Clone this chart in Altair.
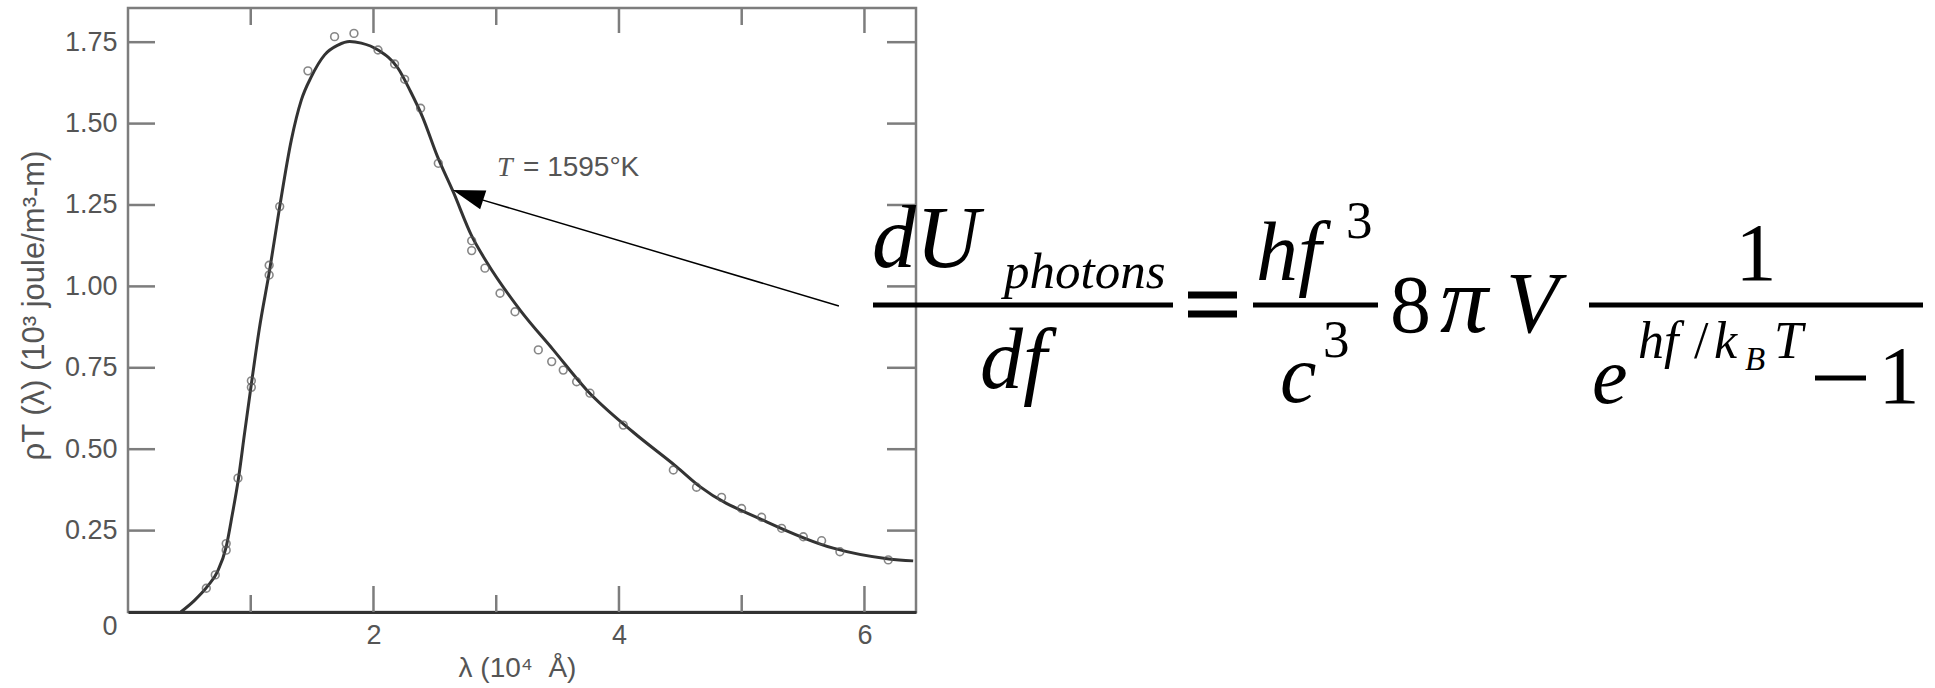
import altair as alt
import pandas as pd

# Measured spectral energy density of a cavity at T = 1595 K
lam_obs = [0.638, 0.711, 0.80, 0.80, 0.896, 1.005, 1.005, 1.15, 1.15, 1.236,
           1.466, 1.683, 1.841, 2.037, 2.172, 2.254, 2.384, 2.528, 2.80, 2.80,
           2.908, 3.031, 3.153, 3.343, 3.452, 3.546, 3.655, 3.764, 4.035, 4.443,
           4.632, 4.836, 4.999, 5.162, 5.325, 5.502, 5.651, 5.800, 6.194]
rho_obs = [0.073, 0.114, 0.21, 0.19, 0.411, 0.71, 0.69, 1.065, 1.035, 1.245,
           1.662, 1.767, 1.777, 1.726, 1.683, 1.636, 1.547, 1.378, 1.14, 1.11,
           1.056, 0.979, 0.922, 0.805, 0.769, 0.743, 0.707, 0.672, 0.574, 0.436,
           0.383, 0.352, 0.318, 0.291, 0.257, 0.231, 0.219, 0.185, 0.160]

# Theoretical curve drawn through the measurements
lam_fit = [0.43, 0.54, 0.65, 0.73, 0.80, 0.85, 0.90, 0.95, 1.005, 1.07,
           1.154, 1.236, 1.331, 1.412, 1.494, 1.602, 1.711, 1.806, 1.901, 2.037,
           2.20, 2.30, 2.40, 2.52, 2.65, 2.80, 2.922, 3.193, 3.465, 3.737,
           4.117, 4.470, 4.660, 5.203, 5.746, 6.20, 6.397]
rho_fit = [0.0, 0.035, 0.08, 0.125, 0.20, 0.30, 0.41, 0.55, 0.70, 0.87,
           1.05, 1.245, 1.45, 1.572, 1.644, 1.711, 1.741, 1.752, 1.747, 1.726,
           1.67, 1.60, 1.52, 1.40, 1.29, 1.155, 1.075, 0.928, 0.805, 0.682,
           0.552, 0.446, 0.385, 0.277, 0.196, 0.163, 0.157]

y_tick_values = [0, 0.25, 0.5, 0.75, 1.0, 1.25, 1.5, 1.75]
x_label_values = [2, 4, 6]
x_major_ticks = [2, 4, 6]
x_minor_ticks = [1, 3, 5]

X_MAX = 6.42
Y_MAX = 1.855

# page layout (pixels)
CANVAS_W, CANVAS_H = 1935, 688
PLOT_LEFT, PLOT_TOP = 128, 8
PLOT_W, PLOT_H = 788, 604

GRAY = "#555555"
FRAME = "#7d7d7d"
SANS = "Liberation Sans"
SERIF = "Liberation Serif"

obs = pd.DataFrame({"lam": lam_obs, "rho": rho_obs})
fit = pd.DataFrame({"lam": lam_fit, "rho": rho_fit})
yt = pd.DataFrame({"v": y_tick_values[1:]})
xmaj = pd.DataFrame({"v": x_major_ticks})
xmin = pd.DataFrame({"v": x_minor_ticks})
one = pd.DataFrame({"k": [0]})

xs = alt.Scale(domain=[0, X_MAX], nice=False, zero=False)
ys = alt.Scale(domain=[0, Y_MAX], nice=False, zero=False)

X_TITLE = "λ (10⁴\u00a0\u00a0Å)"
Y_TITLE = "ρT (λ) (10³ joule/m³-m)"

x_axis = alt.Axis(
    values=x_label_values, format="d", ticks=False, grid=False,
    labelPadding=10, labelFont=SANS, labelFontSize=27, labelColor=GRAY,
    domainColor="#333333", domainWidth=3,
    title=X_TITLE, titleFont=SANS, titleFontSize=28,
    titleFontWeight="normal", titleColor=GRAY,
    titleX=389, titleY=56, titleAlign="center", titleBaseline="middle",
)
y_axis = alt.Axis(
    values=y_tick_values, ticks=False, grid=False, domain=False,
    labelExpr="datum.value == 0 ? '0' : format(datum.value, '.2f')",
    labelPadding=11, labelFont=SANS, labelFontSize=27, labelColor=GRAY,
    labelOffset={"condition": {"test": "datum.value === 0", "value": 14}, "value": 0},
    title=Y_TITLE, titleFont=SANS, titleFontSize=31,
    titleFontWeight="normal", titleColor=GRAY, titleAngle=270,
    titleX=-94, titleY=297, titleAlign="center", titleBaseline="middle",
)


def X(field=None, datum=None):
    if datum is not None:
        return alt.X(datum=datum, type="quantitative", scale=xs, axis=x_axis, title=X_TITLE)
    return alt.X(field, type="quantitative", scale=xs, axis=x_axis, title=X_TITLE)


def Y(field=None, datum=None):
    if datum is not None:
        return alt.Y(datum=datum, type="quantitative", scale=ys, axis=y_axis, title=Y_TITLE)
    return alt.Y(field, type="quantitative", scale=ys, axis=y_axis, title=Y_TITLE)


# fitted curve
curve = alt.Chart(fit).mark_line(
    color="#333333", strokeWidth=3, interpolate="monotone"
).encode(x=X("lam"), y=Y("rho"))

points = alt.Chart(obs).mark_point(
    shape="circle", filled=False, size=60, stroke="#555555", strokeWidth=1.6
).encode(x=X("lam"), y=Y("rho"))

# inward ticks on all four sides of the frame
tick_style = dict(color=FRAME, strokeWidth=2.5)
left_ticks = alt.Chart(yt).mark_rule(**tick_style).encode(
    y=Y("v"), x=alt.value(0), x2=alt.value(27))
right_ticks = alt.Chart(yt).mark_rule(**tick_style).encode(
    y=Y("v"), x=alt.value(PLOT_W - 29), x2=alt.value(PLOT_W))
top_major = alt.Chart(xmaj).mark_rule(**tick_style).encode(
    x=X("v"), y=alt.value(0), y2=alt.value(25))
top_minor = alt.Chart(xmin).mark_rule(**tick_style).encode(
    x=X("v"), y=alt.value(0), y2=alt.value(17))
bottom_major = alt.Chart(xmaj).mark_rule(**tick_style).encode(
    x=X("v"), y=alt.value(PLOT_H), y2=alt.value(PLOT_H - 26))
bottom_minor = alt.Chart(xmin).mark_rule(**tick_style).encode(
    x=X("v"), y=alt.value(PLOT_H), y2=alt.value(PLOT_H - 17))


def px(x, y):
    """Canvas pixel position -> plot-relative encoding values."""
    return dict(x=alt.value(x - PLOT_LEFT), y=alt.value(y - PLOT_TOP))


# temperature label with arrow pointing at the curve
t_label = alt.Chart(one).mark_text(
    text="T", font=SERIF, fontStyle="italic", fontSize=28, color=GRAY,
    align="left", baseline="alphabetic").encode(**px(497, 176))
t_value = alt.Chart(one).mark_text(
    text="= 1595°K", font=SANS, fontSize=28, color=GRAY,
    align="left", baseline="alphabetic").encode(**px(523, 176))

arrow_line = alt.Chart(one).mark_rule(color="black", strokeWidth=1.5).encode(
    x=X(datum=5.792), y=Y(datum=0.940),
    x2=alt.X2(datum=2.892), y2=alt.Y2(datum=1.265),
)
arrow_head = alt.Chart(one).mark_point(
    shape="M -1 0 L 1 -0.62 L 1 0.62 Z", filled=True, color="black",
    opacity=1, size=1024, angle=18,
).encode(x=X(datum=2.770), y=Y(datum=1.281))


# Planck's law for the photon energy per unit frequency
def sym(text, x, y, size, italic=True, align="left"):
    return alt.Chart(one).mark_text(
        text=text, font=SERIF, fontSize=size,
        fontStyle="italic" if italic else "normal",
        align=align, baseline="alphabetic", color="black",
    ).encode(**px(x, y))


def bar(x1, x2, y, width=5):
    return alt.Chart(one).mark_rule(color="black", strokeWidth=width, strokeCap="butt").encode(
        x=alt.value(x1 - PLOT_LEFT), x2=alt.value(x2 - PLOT_LEFT), y=alt.value(y - PLOT_TOP))


equation = [
    sym("dU", 872, 267, 88),
    sym("photons", 1004, 288, 51),
    sym("df", 980, 388, 86),
    bar(873, 1173, 305),
    bar(1188, 1237, 295, 7),
    bar(1188, 1237, 314, 7),
    sym("hf", 1256, 280, 84),
    sym("3", 1346, 238, 53, italic=False),
    bar(1253, 1378, 305),
    sym("c", 1280, 402, 82),
    sym("3", 1323, 357, 53, italic=False),
    sym("8", 1390, 332, 82, italic=False),
    sym("π", 1440, 332, 96, italic=True),
    sym("V", 1506, 332, 86),
    bar(1589, 1923, 305),
    sym("1", 1756, 280, 82, italic=False, align="center"),
    sym("e", 1592, 403, 80),
    sym("hf", 1638, 358, 52),
    sym("/", 1694, 358, 52, italic=False),
    sym("k", 1714, 358, 52),
    sym("B", 1745, 370, 33),
    sym("T", 1774, 358, 52),
    bar(1815, 1866, 378),
    sym("1", 1899, 403, 82, italic=False, align="center"),
]

chart = alt.layer(
    curve, left_ticks, right_ticks, top_major, top_minor, bottom_major, bottom_minor,
    points, arrow_line, arrow_head, t_label, t_value, *equation,
).properties(
    width=PLOT_W,
    height=PLOT_H,
    autosize=alt.AutoSizeParams(type="none"),
    padding={"left": PLOT_LEFT, "top": PLOT_TOP,
             "right": CANVAS_W - PLOT_LEFT - PLOT_W,
             "bottom": CANVAS_H - PLOT_TOP - PLOT_H},
    background="white",
).configure_view(
    stroke=FRAME, strokeWidth=2.5,
)

chart.save("out.html", embed_options={"renderer": "svg", "actions": False})
